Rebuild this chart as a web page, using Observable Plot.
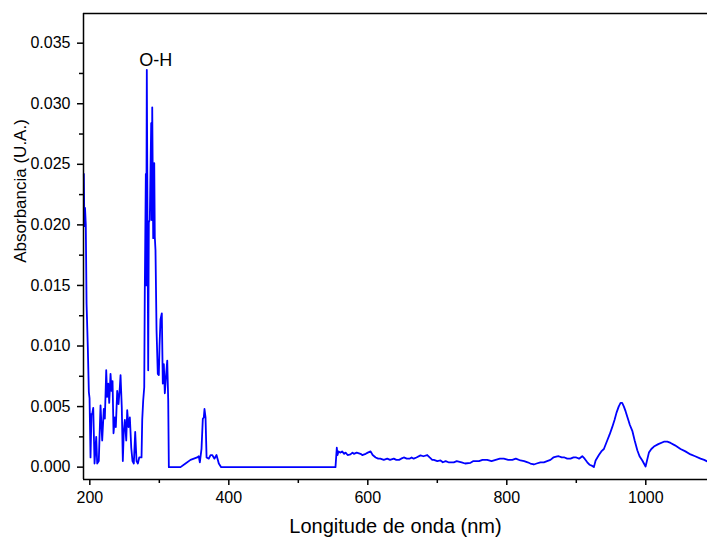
<!DOCTYPE html>
<html>
<head>
<meta charset="utf-8">
<script src="https://cdn.jsdelivr.net/npm/d3@7"></script>
<script src="https://cdn.jsdelivr.net/npm/@observablehq/plot@0.6"></script>
<style>
  html, body { margin: 0; padding: 0; background: #fff; }
  #chart svg { display: block; }
</style>
</head>
<body>
<div id="chart"></div>
<script>
// Wavelength (nm) and absorbance (U.A.)
const wavelength = [
  191.4,192.1,193.1,194.2,195.3,197.1,198.6,199.6,201,202.4,
  203.5,204.9,206.8,209.2,210.6,212.9,215.4,217.8,220.1,221.6,
  223.6,225,226.5,227.9,229.8,231.2,232.7,234.1,236,237.4,
  239.4,241.3,243.2,244.2,246,247.5,248.9,250.4,252.4,253.8,
  255.7,257.6,259.6,261.4,263.3,265.3,267.2,269.1,271.1,274.4,
  275.4,276.8,278.3,279.1,280.6,281.1,282,283,284,284.9,
  286.3,288.3,289.2,289.8,291.2,292.7,293.5,294.5,296,297.8,
  299.3,300.3,301.7,303.6,305,306.5,307.9,309.9,311.4,312.8,
  313.7,330.5,337.7,344.9,354.5,356.8,358.3,360.7,362.6,364,
  365,366.5,368,371.2,373.7,376.1,379.4,382.3,385.6,389,
  553.5,555.4,556.4,557.8,560.7,563,566,568,571,575,
  578,580,584,589.5,592,597,600,604,607,611.3,
  615,618,623,628,632,637.4,641,645,648,651.8,
  656,660,663,666,670,675.8,680,685.5,689,692.7,
  695,700,704.6,708,712,716,723.7,728,735,740,
  747.8,752,760,765,771.8,778,784,790,795.7,802,
  808,813,819.7,825,830,834,838.9,843,848.4,853.3,
  858,862.8,867,872.5,874.7,879,883,887,891.7,896,
  900,904,908.6,912,915.8,919,923,925.3,927.8,932.5,
  936,939.7,944.5,948,951.7,955,957.9,961,963.7,966,
  968.5,971,974.3,977,980.6,984,987.8,991,995,999.7,
  1004.5,1008,1011.7,1018,1026,1031,1035.7,1042,1050,1057,
  1064.4,1071,1078.8,1084,1088.4
];
const absorbance = [
  0.0242,0.0199,0.0214,0.0200,0.0135,0.0099,0.0062,0.0057,0.0008,0.0044,
  0.0044,0.0049,0.0003,0.0025,0.0003,0.0005,0.0051,0.0022,0.0048,0.0040,
  0.0080,0.0058,0.0069,0.0053,0.0077,0.0063,0.0071,0.0028,0.0041,0.0033,
  0.0063,0.0052,0.0066,0.0076,0.0049,0.0005,0.0030,0.0039,0.0022,0.0047,
  0.0033,0.0041,0.0016,0.0005,0.0003,0.0029,0.0005,0.0003,0.0008,0.0008,
  0.0039,0.0055,0.0066,0.0146,0.0242,0.0150,0.0328,0.0204,0.0080,0.0202,
  0.0204,0.0284,0.0204,0.0297,0.0189,0.0251,0.0190,0.0179,0.0113,0.0077,
  0.0076,0.0100,0.0122,0.0127,0.0069,0.0085,0.0061,0.0077,0.0088,0.0055,
  0.0000,0.0000,0.0003,0.0006,0.0008,0.0009,0.0004,0.0015,0.0040,0.0041,
  0.0048,0.0041,0.0008,0.0007,0.0010,0.0010,0.0007,0.0010,0.0003,0.0000,
  0.0000,0.0016,0.0010,0.0013,0.0012,0.0013,0.0011,0.0012,0.0010,0.00105,
  0.0012,0.0011,0.0012,0.0011,0.0010,0.0011,0.0012,0.0013,0.0010,0.0008,
  0.0007,0.0007,0.0006,0.0007,0.0006,0.0007,0.0006,0.0006,0.0007,0.0008,
  0.0007,0.0007,0.0008,0.0007,0.0008,0.00097,0.0009,0.0010,0.0008,0.0006,
  0.0006,0.0005,0.00055,0.0004,0.0005,0.0004,0.0004,0.0005,0.0004,0.0003,
  0.00036,0.0005,0.0005,0.0006,0.0006,0.0005,0.0006,0.0007,0.0007,0.0006,
  0.0006,0.0007,0.00055,0.0005,0.0004,0.0003,0.00022,0.0003,0.0004,0.0004,
  0.0005,0.0006,0.0008,0.00088,0.0009,0.0008,0.0008,0.0007,0.0007,0.0008,
  0.0008,0.0007,0.0009,0.0007,0.0004,0.0002,0.0001,0.0000,0.00055,0.0010,
  0.0013,0.0015,0.0022,0.0027,0.0033,0.0039,0.0045,0.0050,0.0053,0.0053,
  0.0050,0.0046,0.0040,0.0035,0.0030,0.0022,0.0014,0.0009,0.00055,0.00005,
  0.0012,0.0015,0.0017,0.0019,0.0021,0.0021,0.0020,0.0018,0.0015,0.0013,
  0.00105,0.0009,0.0007,0.0006,0.00047
];
const xMajorTicks = [200, 400, 600, 800, 1000];
const xMinorTicks = [300, 500, 700, 900];
const yMajorTicks = [0, 0.005, 0.010, 0.015, 0.020, 0.025, 0.030, 0.035];
const yMinorTicks = [0.0025, 0.0075, 0.0125, 0.0175, 0.0225, 0.0275, 0.0325];
const xTitle = "Longitude de onda (nm)";
const yTitle = "Absorbancia (U.A.)";
const peakLabel = [{wl: 295, a: 0.0331, text: "O-H"}];

const spectrum = wavelength.map((w, i) => ({wl: w, a: absorbance[i]}));
const xDomain = [190.9, 1088.8];
const yDomain = [-0.00102, 0.03745];

const chart = Plot.plot({
  width: 707,
  height: 544,
  marginLeft: 83,
  marginRight: 0,
  marginTop: 13,
  marginBottom: 65,
  style: {fontFamily: "'Liberation Sans', Arial, sans-serif", fontSize: "16px", color: "#000", background: "#fff"},
  x: {domain: xDomain, label: null},
  y: {domain: yDomain, label: null},
  marks: [
    Plot.line(spectrum, {x: "wl", y: "a", stroke: "#0000ff", strokeWidth: 1.8, curve: "linear"}),
    Plot.ruleX([xDomain[0]], {stroke: "#000", strokeWidth: 1.5}),
    Plot.ruleY([yDomain[0]], {stroke: "#000", strokeWidth: 1.5}),
    Plot.ruleY([yDomain[1]], {stroke: "#000", strokeWidth: 1.5}),
    Plot.axisX({ticks: xMajorTicks, tickSize: 6, tickPadding: 6, tickFormat: d => String(d), label: null, fontSize: 16, strokeWidth: 1.5}),
    Plot.axisX({ticks: xMinorTicks, tickSize: 4, tickFormat: () => "", label: null, strokeWidth: 1.5}),
    Plot.axisY({ticks: yMajorTicks, tickSize: 6, tickPadding: 7, tickFormat: d3.format(".3f"), label: null, fontSize: 16, strokeWidth: 1.5}),
    Plot.axisY({ticks: yMinorTicks, tickSize: 4, tickFormat: () => "", label: null, strokeWidth: 1.5}),
    Plot.text(peakLabel, {x: "wl", y: "a", text: "text", fontSize: 18, lineAnchor: "bottom", fill: "#000"}),
    Plot.text([xTitle], {frameAnchor: "bottom", dy: 53, fontSize: 20, fill: "#000"}),
    Plot.text([yTitle], {x: 101, y: 0.0228, rotate: -90, fontSize: 17, fill: "#000"})
  ]
});
document.getElementById("chart").appendChild(chart);
</script>
</body>
</html>
